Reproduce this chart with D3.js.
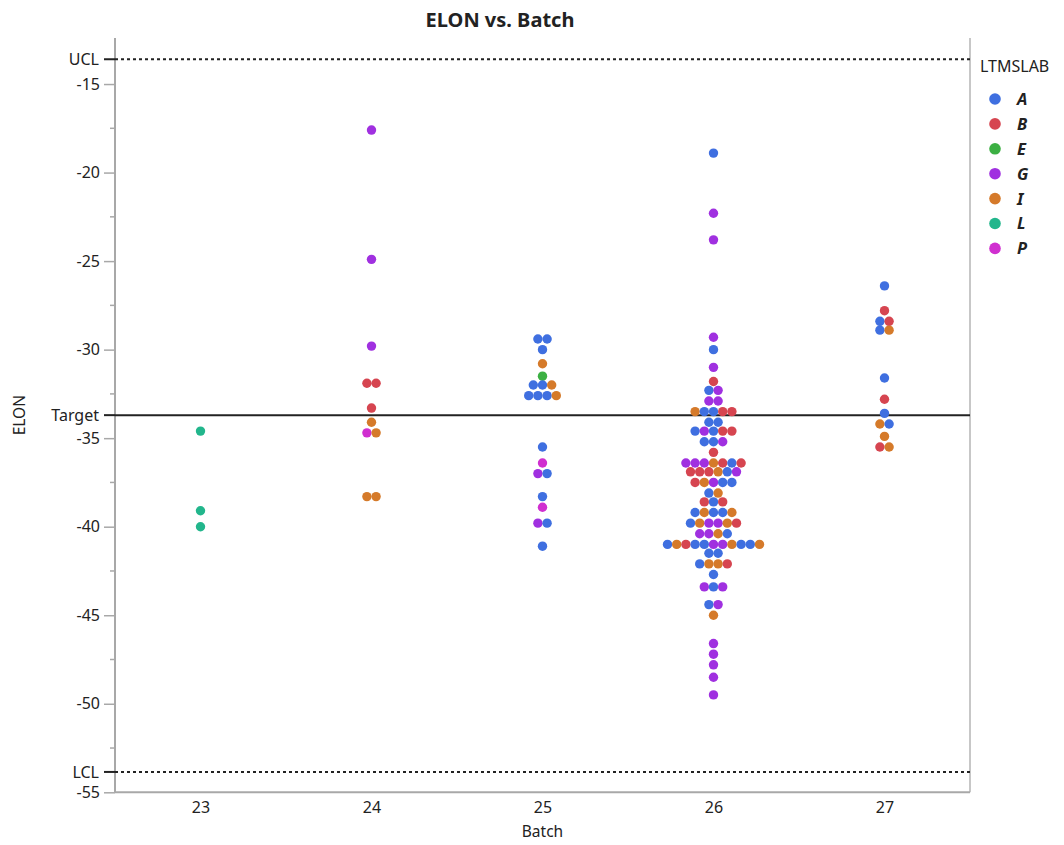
<!DOCTYPE html>
<html>
<head>
<meta charset="utf-8">
<script src="https://cdn.jsdelivr.net/npm/d3@7"></script>
<style>
  body { margin: 0; background: #fff; }
  text { font-family: "Noto Sans", "Open Sans", sans-serif; fill: #222; }
</style>
</head>
<body>
<div id="chart"></div>
<script>
// categories
var batches = ["23", "24", "25", "26", "27"];
var labs = ["A", "B", "E", "G", "I", "L", "P"];
var labColors = ["#3f6fe0", "#d64550", "#3cb043", "#a030e0", "#d57a2a", "#22b68c", "#d02fd0"];

// each row: [ELON value, labs of the points in that row, left to right]
var batch23 = [[-34.6, "L"], [-39.1, "L"], [-40.0, "L"]];
var batch24 = [[-17.6, "G"], [-24.9, "G"], [-29.8, "G"], [-31.9, "BB"], [-33.3, "B"], [-34.1, "I"], [-34.7, "PI"], [-38.3, "II"]];
var batch25 = [[-29.4, "AA"], [-30.0, "A"], [-30.8, "I"], [-31.5, "E"], [-32.0, "AAI"], [-32.6, "AAAI"], [-35.5, "A"], [-36.4, "P"],
               [-37.0, "GA"], [-38.3, "A"], [-38.9, "P"], [-39.8, "GA"], [-41.1, "A"]];
var batch26 = [[-18.9, "A"], [-22.3, "G"], [-23.8, "G"], [-29.3, "G"], [-30.0, "A"], [-31.0, "G"], [-31.8, "B"], [-32.3, "AG"],
               [-32.9, "GG"], [-33.5, "IAABB"], [-34.1, "AA"], [-34.6, "AGABB"], [-35.2, "AAG"], [-35.8, "B"],
               [-36.4, "GGGIBAB"], [-36.9, "BBBIAG"], [-37.5, "BIGAA"], [-38.1, "AI"], [-38.6, "BAB"], [-39.2, "AIAAI"],
               [-39.8, "AIGGIB"], [-40.4, "GGIA"], [-41.0, "AIBAAGGIAAI"], [-41.5, "AA"], [-42.1, "AIIB"], [-42.7, "A"],
               [-43.4, "GAG"], [-44.4, "AG"], [-45.0, "I"], [-46.6, "G"], [-47.2, "G"], [-47.8, "G"], [-48.5, "G"], [-49.5, "G"]];
var batch27 = [[-26.4, "A"], [-27.8, "B"], [-28.4, "AB"], [-28.9, "AI"], [-31.6, "A"], [-32.8, "B"], [-33.6, "A"],
               [-34.2, "IA"], [-34.9, "I"], [-35.5, "BI"]];
var batchRows = [batch23, batch24, batch25, batch26, batch27];

// reference lines
var refNames = ["UCL", "Target", "LCL"];
var refValues = [-13.6, -33.7, -53.85];
var refDash = ["3,3", null, "3,3"];

var yTicks = [-15, -20, -25, -30, -35, -40, -45, -50, -55];
var yMinor = [-17.5, -22.5, -27.5, -32.5, -37.5, -42.5, -47.5, -52.5];

var width = 1064, height = 845;
var plotLeft = 115, plotRight = 970, plotTop = 38, plotBottom = 792.3;
var dotR = 4.7, dotGap = 9.2;

var svg = d3.select("#chart").append("svg")
	.attr("width", width)
	.attr("height", height);

var x = d3.scalePoint().domain(batches).range([plotLeft, plotRight]).padding(0.5);
var y = d3.scaleLinear().domain([-55, -12.4]).range([plotBottom, plotTop]);
var color = d3.scaleOrdinal().domain(labs).range(labColors);

// flatten rows into points, centred on the batch
var points = [];
batchRows.forEach(function(rows, bi) {
	rows.forEach(function(row) {
		var n = row[1].length;
		row[1].split("").forEach(function(lab, i) {
			points.push({ batch: batches[bi], value: row[0], lab: lab, off: (i - (n - 1) / 2) * dotGap });
		});
	});
});

// title
svg.append("text")
	.attr("x", 500).attr("y", 27)
	.attr("text-anchor", "middle")
	.style("font-size", "20px").style("font-weight", "bold")
	.text("ELON vs. Batch");

// right border
svg.append("line")
	.attr("x1", plotRight).attr("x2", plotRight).attr("y1", plotTop).attr("y2", plotBottom)
	.attr("stroke", "#b4b4b4").attr("stroke-width", 1.5);

// y axis (plain hyphen, like the original)
var yAxis = svg.append("g")
	.attr("transform", "translate(" + plotLeft + ",0)")
	.call(d3.axisLeft(y).tickValues(yTicks).tickSize(11).tickPadding(4)
		.tickFormat(function(d) { return String(d); }));
yAxis.selectAll("text").style("font-size", "16px").style("fill", "#222")
	.style("font-family", "'Noto Sans', sans-serif");
yAxis.selectAll(".tick line").attr("stroke", "#a8a8a8").attr("stroke-width", 1.5);
yAxis.select(".domain").attr("stroke", "#a8a8a8").attr("stroke-width", 2).attr("d", "M0," + plotTop + "V" + plotBottom);

svg.append("g").selectAll("line")
	.data(yMinor)
	.enter().append("line")
	.attr("x1", plotLeft - 5).attr("x2", plotLeft)
	.attr("y1", function(d) { return y(d); })
	.attr("y2", function(d) { return y(d); })
	.attr("stroke", "#a8a8a8").attr("stroke-width", 1.5);

// x axis
var xAxis = svg.append("g")
	.attr("transform", "translate(0," + plotBottom + ")")
	.call(d3.axisBottom(x).tickSize(0).tickPadding(9));
xAxis.selectAll("text").style("font-size", "16px").style("fill", "#222")
	.style("font-family", "'Noto Sans', sans-serif");
xAxis.select(".domain").attr("stroke", "#a8a8a8").attr("stroke-width", 2).attr("d", "M" + plotLeft + ",0H" + plotRight);

// axis titles
svg.append("text")
	.attr("x", plotLeft + (plotRight - plotLeft) / 2).attr("y", 837)
	.attr("text-anchor", "middle")
	.style("font-size", "15.5px")
	.text("Batch");
svg.append("text")
	.attr("transform", "translate(25," + y(-33.7) + ") rotate(-90)")
	.attr("text-anchor", "middle")
	.style("font-size", "15.5px")
	.text("ELON");

// reference lines
var ref = svg.append("g").selectAll("g")
	.data(refNames)
	.enter().append("g");
ref.append("line")
	.attr("x1", plotLeft - 11).attr("x2", plotLeft)
	.attr("y1", function(d, i) { return y(refValues[i]); })
	.attr("y2", function(d, i) { return y(refValues[i]); })
	.attr("stroke", "#222").attr("stroke-width", 2);
ref.append("line")
	.attr("x1", plotLeft).attr("x2", plotRight)
	.attr("y1", function(d, i) { return y(refValues[i]); })
	.attr("y2", function(d, i) { return y(refValues[i]); })
	.attr("stroke", "#222").attr("stroke-width", 2)
	.attr("stroke-dasharray", function(d, i) { return refDash[i]; });
ref.append("text")
	.attr("x", plotLeft - 16)
	.attr("y", function(d, i) { return y(refValues[i]); })
	.attr("dy", "0.35em")
	.attr("text-anchor", "end")
	.style("font-size", "16px")
	.text(function(d) { return d; });

// points
svg.append("g").selectAll("circle")
	.data(points)
	.enter().append("circle")
	.attr("cx", function(d) { return x(d.batch) + d.off; })
	.attr("cy", function(d) { return y(d.value); })
	.attr("r", dotR)
	.attr("fill", function(d) { return color(d.lab); });

// legend
var legend = svg.append("g").attr("transform", "translate(980,0)");
legend.append("text")
	.attr("x", 0).attr("y", 72)
	.style("font-size", "16px")
	.text("LTMSLAB");
var item = legend.selectAll(".item")
	.data(labs)
	.enter().append("g")
	.attr("class", "item")
	.attr("transform", function(d, i) { return "translate(0," + (99 + i * 24.9) + ")"; });
item.append("circle")
	.attr("cx", 15).attr("cy", 0).attr("r", 5.8)
	.attr("fill", function(d) { return color(d); });
item.append("text")
	.attr("x", 37).attr("y", 0).attr("dy", "0.36em")
	.style("font-size", "16.5px").style("font-weight", "bold").style("font-style", "italic")
	.text(function(d) { return d; });
</script>
</body>
</html>
